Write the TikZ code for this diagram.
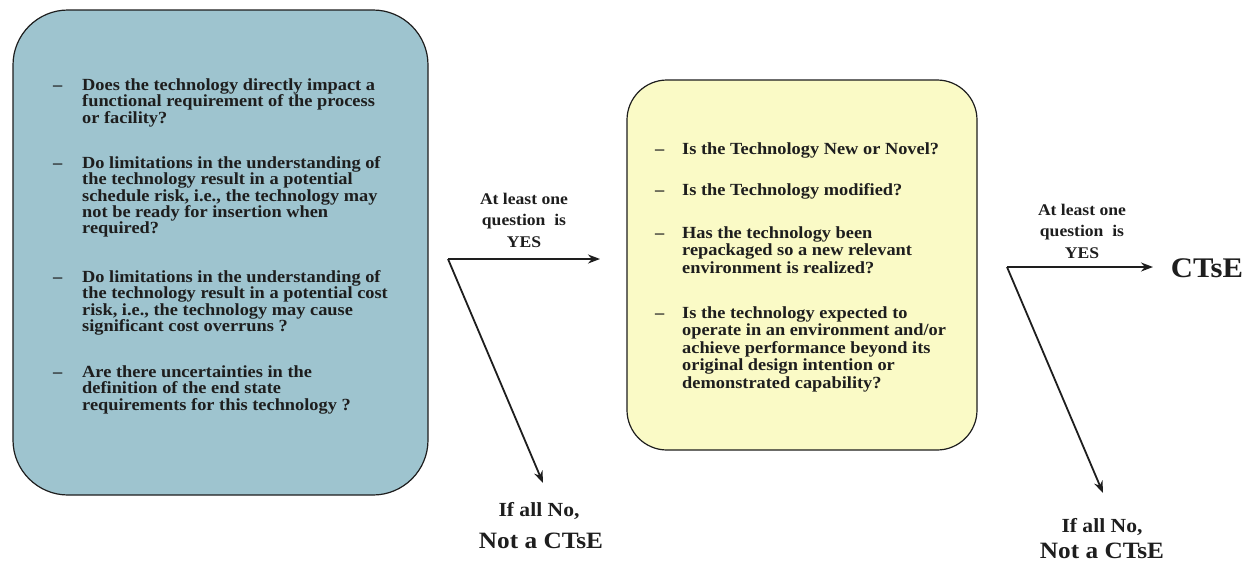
\documentclass[tikz,border=0pt]{standalone}
\usepackage{fontspec}
\setmainfont{Liberation Serif}[FakeStretch=1.08]
\usetikzlibrary{arrows.meta}
\definecolor{boxblue}{RGB}{158,196,207}
\definecolor{boxyellow}{RGB}{250,250,198}
\definecolor{ink}{RGB}{30,30,30}
\newcommand\bulA{\makebox[29pt][l]{–}}
\newcommand\conA{\hspace*{29pt}}
\newcommand\bulB{\makebox[27pt][l]{–}}
\newcommand\conB{\hspace*{27pt}}
\begin{document}
\begin{tikzpicture}[x=1pt,y=-1pt,
  qbox/.style={draw=ink, line width=1.2pt},
  qtext/.style={anchor=north west, align=left, inner sep=0pt, text=ink,
    font=\bfseries\fontsize{17}{16.3}\selectfont},
  ytext/.style={anchor=north west, align=left, inner sep=0pt, text=ink,
    font=\bfseries\fontsize{17}{17.5}\selectfont},
  lbl/.style={align=center, inner sep=0pt, text=ink,
    font=\bfseries\fontsize{16.3}{21.5}\selectfont},
  nolbl/.style={inner sep=0pt, text=ink, font=\bfseries\fontsize{20}{24}\selectfont},
  notlbl/.style={inner sep=0pt, text=ink, font=\bfseries\fontsize{23.4}{28}\selectfont},
  flow/.style={draw=ink, line width=1.8pt, -{Stealth[length=12pt,width=9pt]}}]
\path[use as bounding box, fill=white] (0,0) rectangle (1253,563);

% boxes
\node[qbox, fill=boxblue, minimum width=415pt, minimum height=485pt,
      rounded corners=55pt] (q1) at (220.5,252.5) {};
\node[qbox, fill=boxyellow, minimum width=350pt, minimum height=370pt,
      rounded corners=40pt] (q2) at (802,265) {};

% blue box questions
\node[qtext] (b1) at (53,78.5) {\bulA Does the technology directly impact a\\
  \conA functional requirement of the process\\\conA or facility?};
\node[qtext] (b2) at (53,156.5) {\bulA Do limitations in the understanding of\\
  \conA the technology result in a potential\\
  \conA schedule risk, i.e., the technology may\\
  \conA not be ready for insertion when\\\conA required?};
\node[qtext] (b3) at (53,270.5) {\bulA Do limitations in the understanding of\\
  \conA the technology result in a potential cost\\
  \conA risk, i.e., the technology may cause\\
  \conA significant cost overruns ?};
\node[qtext] (b4) at (53,365.5) {\bulA Are there uncertainties in the\\
  \conA definition of the end state\\
  \conA requirements for this technology ?};

% yellow box questions
\node[ytext] (y1) at (655,143) {\bulB Is the Technology New or Novel?};
\node[ytext] (y2) at (655,183) {\bulB Is the Technology modified?};
\node[ytext] (y3) at (655,226) {\bulB Has the technology been\\
  \conB repackaged so a new relevant\\\conB environment is realized?};
\node[ytext] (y4) at (655,306) {\bulB Is the technology expected to\\
  \conB operate in an environment and/or\\
  \conB achieve performance beyond its\\
  \conB original design intention or\\
  \conB demonstrated capability?};

% first decision
\node[lbl] (yes1) at (524,220) {At least one\\question~~is\\YES};
\coordinate (c1) at (448,259);
\coordinate (e1) at (600,259);
\coordinate (d1) at (543,483);
\node[nolbl] (no1) at (539,511) {If all No,};
\node[notlbl] (not1) at (541,541) {Not a CTsE};
\draw[flow] (c1) -- (e1);
\draw[flow] (c1) -- (d1);

% second decision
\node[lbl] (yes2) at (1082,231) {At least one\\question~~is\\YES};
\coordinate (c2) at (1007,267);
\coordinate (e2) at (1153,267);
\coordinate (d2) at (1103,493);
\node[notlbl, font=\bfseries\fontsize{28.4}{32}\selectfont] (ct) at (1207,268) {CTsE};
\node[nolbl] (no2) at (1102,527) {If all No,};
\node[notlbl] (not2) at (1102,551) {Not a CTsE};
\draw[flow] (c2) -- (e2);
\draw[flow] (c2) -- (d2);
\end{tikzpicture}
\end{document}
